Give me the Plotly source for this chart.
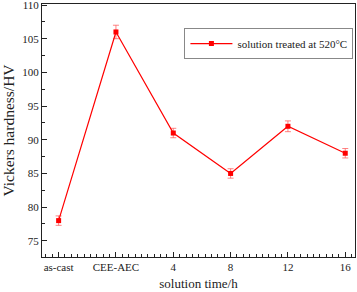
import plotly.graph_objects as go

categories = ["as-cast", "CEE-AEC", "4", "8", "12", "16"]
hardness = [78, 106, 91, 85, 92, 88]
errors = [0.7, 1.0, 0.7, 0.7, 0.8, 0.7]
y_ticks = [75, 80, 85, 90, 95, 100, 105, 110]

xpos = list(range(len(categories)))
font_family = "Liberation Serif, Times New Roman, serif"

fig = go.Figure()
fig.add_trace(go.Scatter(
    x=xpos, y=hardness,
    mode="lines+markers",
    name="solution treated at 520\u00b0C",
    line=dict(color="#ff0000", width=1.2),
    marker=dict(symbol="square", size=5, color="#ff0000"),
    error_y=dict(type="data", array=errors, visible=True,
                 color="rgba(255,90,90,0.75)", thickness=1, width=3),
))

fig.update_layout(
    width=357, height=292,
    autosize=False,
    margin=dict(l=42, r=2, t=4, b=35),
    paper_bgcolor="white", plot_bgcolor="white",
    font=dict(family=font_family, size=11, color="#222"),
    showlegend=True,
    legend=dict(x=0.455, y=0.905, xanchor="left", yanchor="top",
                bordercolor="#888", borderwidth=1, bgcolor="white",
                font=dict(size=11, family=font_family),
                itemwidth=42, tracegroupgap=0),
    xaxis=dict(
        range=[-0.29, 5.17],
        automargin=False,
        tickvals=xpos, ticktext=categories,
        ticks="inside", ticklen=5, tickcolor="#222",
        showline=True, linecolor="#222", linewidth=1, mirror=True,
        showgrid=False, zeroline=False,
        minor=dict(dtick=1/9, tick0=0, ticks="inside", ticklen=3, tickcolor="#222", showgrid=False),
        title=dict(text="solution time/h", font=dict(size=13, family=font_family), standoff=6),
    ),
    yaxis=dict(
        range=[72.6, 110.15],
        automargin=False,
        tickvals=y_ticks,
        ticklabeloverflow="allow",
        ticks="inside", ticklen=5, tickcolor="#222",
        showline=True, linecolor="#222", linewidth=1, mirror=True,
        showgrid=False, zeroline=False,
        minor=dict(dtick=2.5, tick0=0, ticks="inside", ticklen=3, tickcolor="#222", showgrid=False),
        title=dict(text="Vickers hardness/HV", font=dict(size=15.5, family=font_family), standoff=4),
    ),
)

fig.write_html("out.html", config={"displayModeBar": False},
               post_script="document.body.style.margin='0';document.body.style.padding='0';")
